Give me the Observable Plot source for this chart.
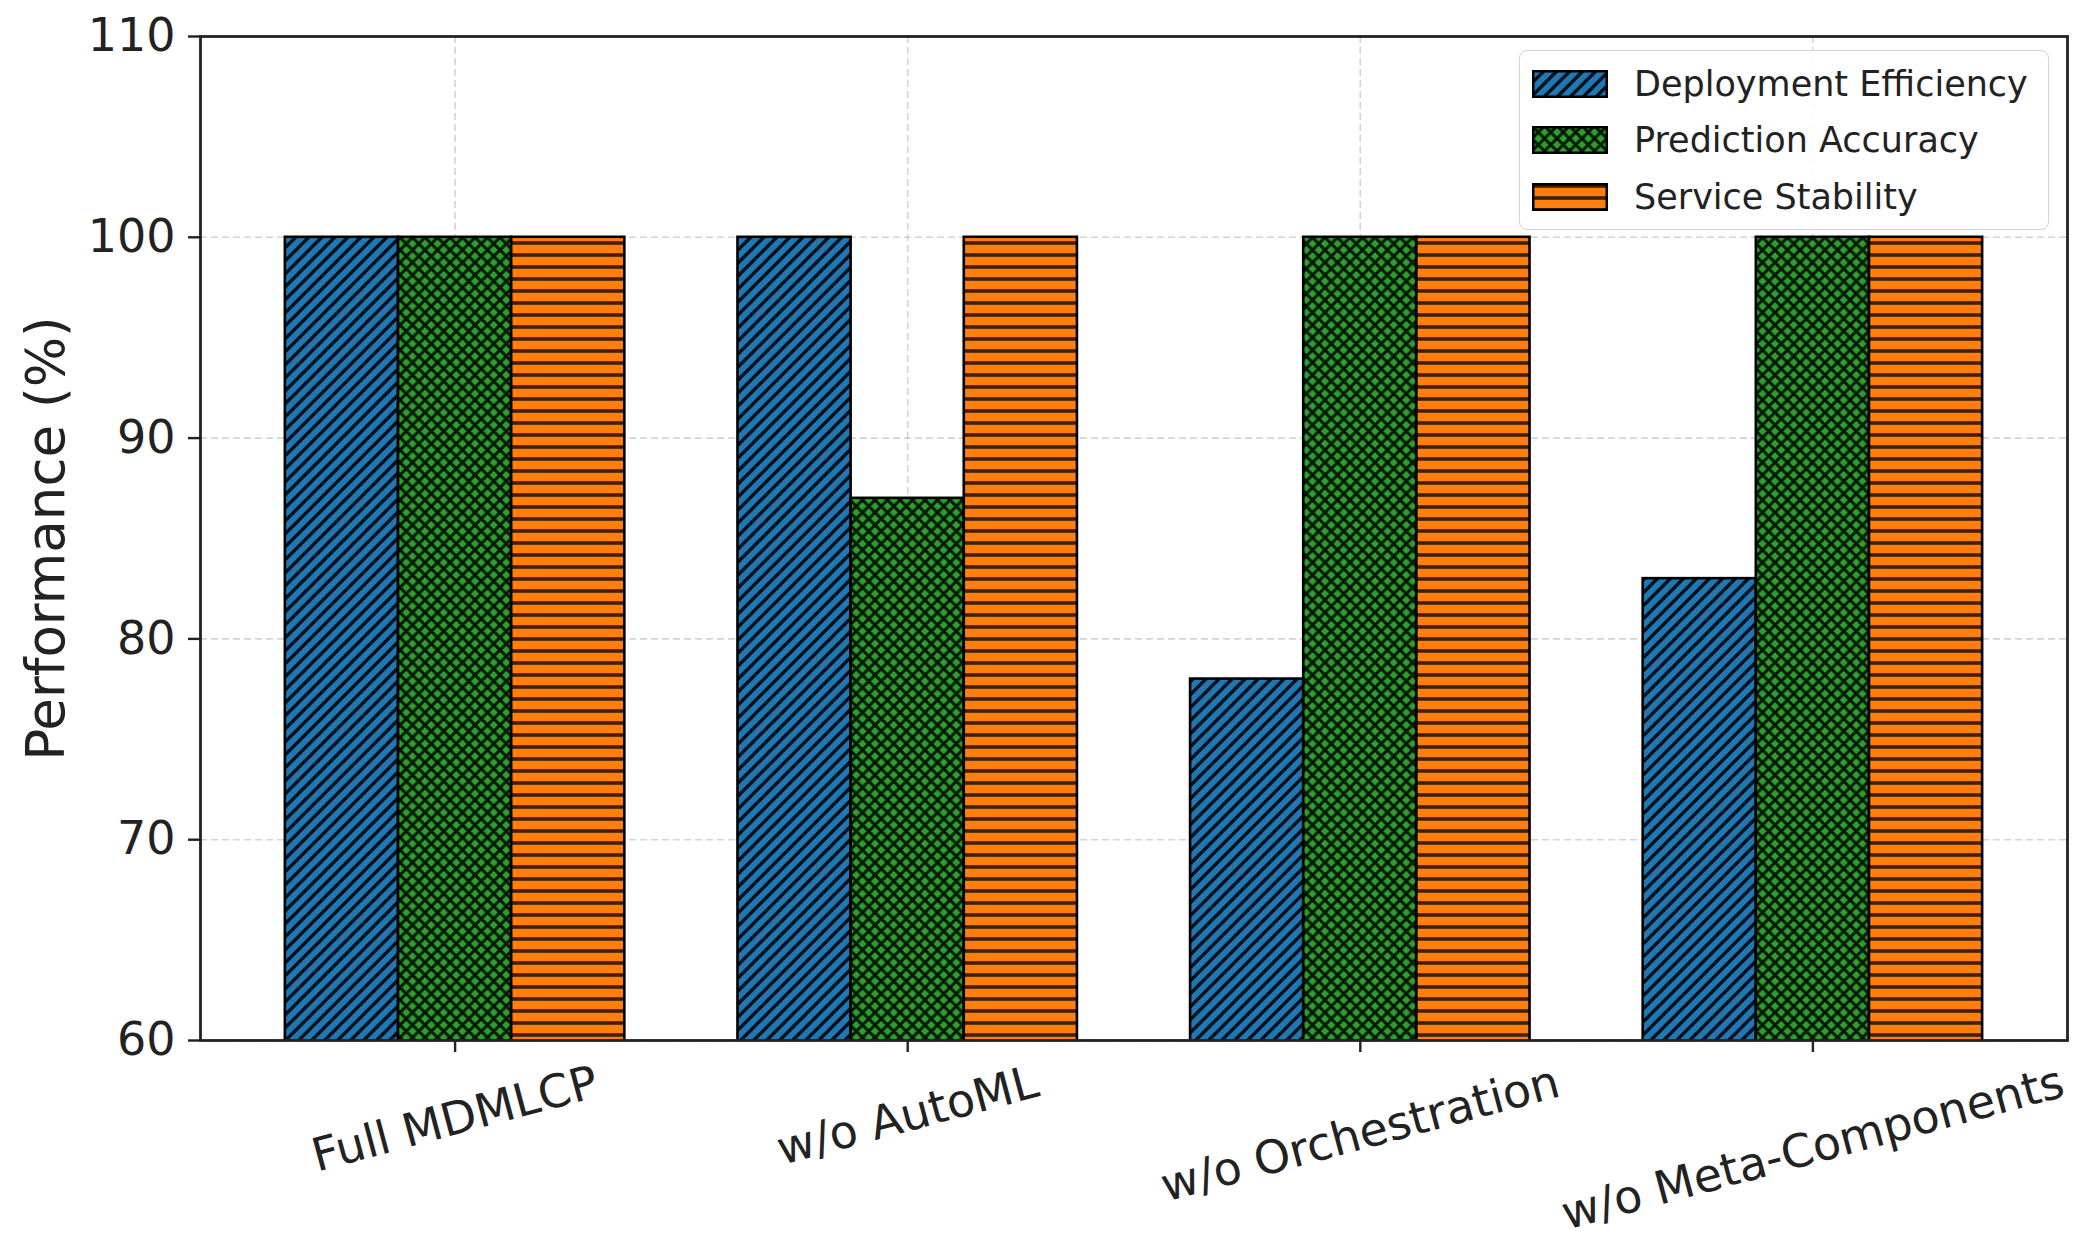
<!DOCTYPE html>
<html>
<head>
<meta charset="utf-8">
<script src="https://cdn.jsdelivr.net/npm/d3@7"></script>
<script src="https://cdn.jsdelivr.net/npm/@observablehq/plot@0.6"></script>
<style>
  html, body { margin: 0; padding: 0; background: #fff; }
  #wrap { position: relative; width: 2093px; height: 1250px; font-family: "DejaVu Sans", sans-serif; color: #222; }
  #legend { position: absolute; left: 1519px; top: 50px; width: 530px; height: 180px; box-sizing: border-box;
            border: 1.5px solid #d4d4d4; border-radius: 8px; background: rgba(255,255,255,0.85); }
  .lrow { position: absolute; left: 12px; height: 28px; display: flex; align-items: center; }
  .lrow svg { display: block; }
  .lrow span { margin-left: 26px; font-size: 35px; line-height: 28px; white-space: nowrap; }
</style>
</head>
<body>
<div id="wrap">
  <svg width="0" height="0" style="position:absolute">
    <defs>
      <pattern id="hatch-diag" patternUnits="userSpaceOnUse" width="13" height="13">
        <rect width="13" height="13" fill="#1f77b4"></rect>
        <path d="M-3.25,3.25 L3.25,-3.25 M0,13 L13,0 M9.75,16.25 L16.25,9.75" stroke="#000" stroke-opacity="0.85" stroke-width="3.4"></path>
      </pattern>
      <pattern id="hatch-cross" patternUnits="userSpaceOnUse" width="12.5" height="12.5">
        <rect width="12.5" height="12.5" fill="#2ca02c"></rect>
        <path d="M-3.125,3.125 L3.125,-3.125 M0,12.5 L12.5,0 M9.375,15.625 L15.625,9.375 M-3.125,9.375 L3.125,15.625 M0,0 L12.5,12.5 M9.375,-3.125 L15.625,3.125" stroke="#000" stroke-opacity="0.85" stroke-width="3"></path>
      </pattern>
      <pattern id="hatch-horiz" patternUnits="userSpaceOnUse" width="12" height="12">
        <rect width="12" height="12" fill="#ff7f0e"></rect>
        <path d="M0,3 L12,3" stroke="#000" stroke-opacity="0.75" stroke-width="3.6"></path>
      </pattern>
    </defs>
  </svg>
  <div id="chart"></div>
  <div id="legend"></div>
</div>
<script>
// ---- data ----
const categories = ["Full MDMLCP", "w/o AutoML", "w/o Orchestration", "w/o Meta-Components"];
const seriesNames = ["Deployment Efficiency", "Prediction Accuracy", "Service Stability"];
const deploymentEfficiency = [100, 100, 78, 83];
const predictionAccuracy = [100, 87, 100, 100];
const serviceStability = [100, 100, 100, 100];
const yTicks = [60, 70, 80, 90, 100, 110];
const yLabel = "Performance (%)";

// ---- styles ----
const seriesValues = [deploymentEfficiency, predictionAccuracy, serviceStability];
const fills = ["url(#hatch-diag)", "url(#hatch-cross)", "url(#hatch-horiz)"];
const barWidth = 0.25;
const yDomain = [60, 110];
const tickFont = 46;
const fontFamily = "DejaVu Sans";

// table built from the arrays
const rows = [];
seriesValues.forEach((vals, j) => {
  vals.forEach((v, i) => {
    const x1 = i + (j - 1) * barWidth - barWidth / 2;
    rows.push({category: categories[i], series: seriesNames[j], j, x1, x2: x1 + barWidth, value: v});
  });
});

const idx = categories.map((_, i) => i);
const span = categories.length - 1 + 3 * barWidth;
const xMin = -1.5 * barWidth - 0.05 * span;
const xMax = (categories.length - 1) + 1.5 * barWidth + 0.05 * span;

// measure label widths for rotated-label placement
const ctx = document.createElement("canvas").getContext("2d");
ctx.font = `${tickFont}px "${fontFamily}"`;
const rot = 15 * Math.PI / 180;
const lineH = tickFont * 1.17;

const gridStyle = {stroke: "#b0b0b0", strokeOpacity: 0.55, strokeDasharray: "7,4", strokeWidth: 1.6};

const labelMarks = idx.map(i => {
  const w = ctx.measureText(categories[i]).width;
  const bboxH = w * Math.sin(rot) + lineH * Math.cos(rot);
  return Plot.text([i], {
    x: d => d, frameAnchor: "bottom", text: d => categories[d],
    rotate: -15, textAnchor: "middle", lineAnchor: "middle",
    dy: 15 + bboxH / 2, fontSize: tickFont, fill: "#222"
  });
});

const chart = Plot.plot({
  width: 2093,
  height: 1250,
  marginLeft: 200,
  marginRight: 26,
  marginTop: 36,
  marginBottom: 210,
  style: {fontFamily, fontSize: `${tickFont}px`, color: "#222", background: "transparent"},
  x: {domain: [xMin, xMax]},
  y: {domain: yDomain},
  marks: [
    Plot.gridY(yTicks, gridStyle),
    Plot.gridX(idx, gridStyle),
    ...seriesNames.map((name, j) => Plot.rectY(rows.filter(r => r.j === j), {
      x1: "x1", x2: "x2", y: "value", fill: fills[j], stroke: "#000", strokeWidth: 2.6, clip: true
    })),
    Plot.frame({stroke: "#222", strokeWidth: 2.8}),
    Plot.axisY(yTicks, {tickSize: 12, tickPadding: 13, fontSize: tickFont, label: null, strokeWidth: 2.4}),
    Plot.axisX(idx, {tickSize: 12, tickFormat: () => "", label: null, strokeWidth: 2.4}),
    ...labelMarks,
    Plot.text([yLabel], {text: d => d, frameAnchor: "left", textAnchor: "middle", lineAnchor: "middle",
      rotate: -90, dx: -153, fontSize: 53, fill: "#222"})
  ]
});
document.getElementById("chart").appendChild(chart);

// ---- legend ----
const legend = document.getElementById("legend");
const rowTops = [19, 75, 132];
seriesNames.forEach((name, j) => {
  const row = document.createElement("div");
  row.className = "lrow";
  row.style.top = rowTops[j] + "px";
  row.innerHTML = `<svg width="76" height="28"><rect x="1.25" y="1.25" width="73.5" height="25.5" fill="${fills[j]}" stroke="#000" stroke-width="2.5"></rect></svg><span>${name}</span>`;
  legend.appendChild(row);
});
</script>
</body>
</html>
